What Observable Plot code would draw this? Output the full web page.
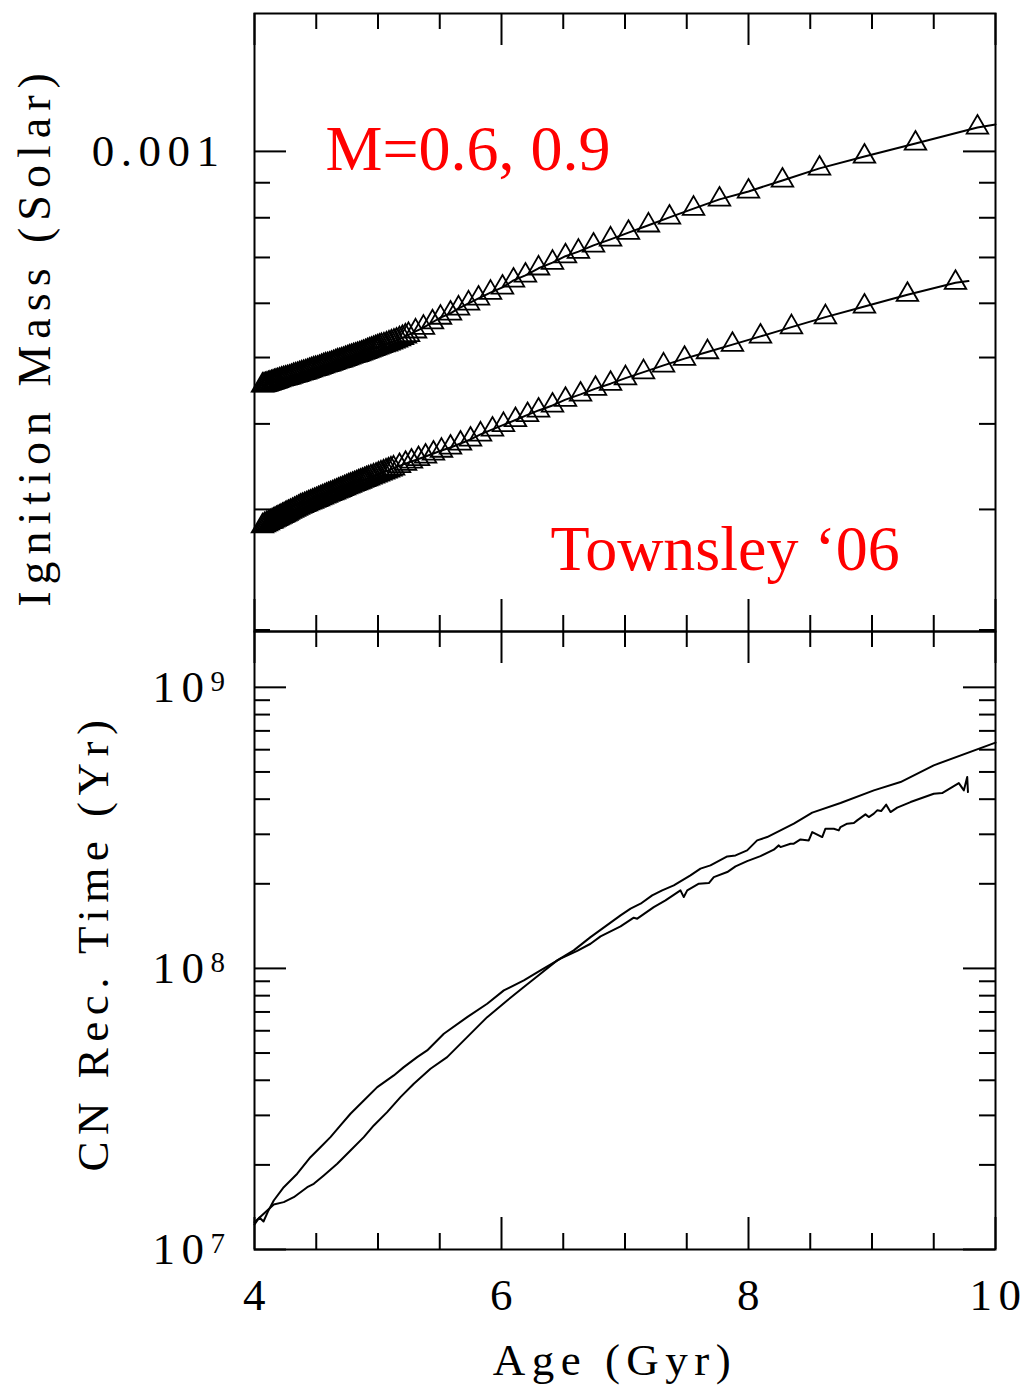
<!DOCTYPE html>
<html><head><meta charset="utf-8">
<script src="https://cdn.jsdelivr.net/npm/d3@7"></script>
<script src="https://cdn.jsdelivr.net/npm/@observablehq/plot@0.6"></script>
<style>
html,body{margin:0;padding:0;background:#fff;}
#wrap{position:relative;width:1028px;height:1387px;overflow:hidden;background:#fff;}
#top,#bot{position:absolute;left:0;}
#top{top:0;z-index:1}
#bot{top:630px;z-index:2}
svg text{letter-spacing:6.5px;}
svg g[fill="#ff0000"] text{letter-spacing:0px;}
svg g[fill="#010101"] text{letter-spacing:7px;}
svg g[fill="#020202"] text{letter-spacing:0px;}
</style></head><body><div id="wrap"><div id="top"></div><div id="bot"></div></div>
<script>
// ---------- tick values ----------
const ageMajor = [4, 6, 8, 10];
const ageMinor = [4.5, 5, 5.5, 6.5, 7, 7.5, 8.5, 9, 9.5];
const massMajor = [0.001];
const massMinor = [0.0002, 0.0003, 0.0004, 0.0005, 0.0006, 0.0007, 0.0008, 0.0009];
const massLabels = ["0.001"];
const cnMajor = [1e7, 1e8, 1e9];
const cnMinor = [2e7, 3e7, 4e7, 5e7, 6e7, 7e7, 8e7, 9e7, 2e8, 3e8, 4e8, 5e8, 6e8, 7e8, 8e8, 9e8];
const cnBase = ["10", "10", "10"];
const cnExp = ["7", "8", "9"];

// ---------- top panel: ignition mass (units of 1e-4 Msun) ----------
const hiAge = [4.065,4.089,4.113,4.138,4.162,4.186,4.219,4.251,4.283,4.316,4.348,4.381,4.413,4.445,4.478,4.510,4.543,4.575,4.607,4.640,4.672,4.704,4.737,4.769,4.802,4.834,4.866,4.899,4.931,4.964,4.996,5.028,5.069,5.109,5.150,5.198,5.247,5.304,
  5.368,5.441,5.506,5.587,5.652,5.733,5.814,5.911,6.008,6.097,6.194,6.300,6.413,6.518,6.623,6.745,6.883,7.028,7.190,7.360,7.555,7.765,8.000,8.275,8.575,8.939,9.352,9.854];
const hiMass = [4.552,4.560,4.575,4.591,4.606,4.622,4.645,4.661,4.677,4.701,4.717,4.741,4.757,4.781,4.805,4.821,4.846,4.870,4.886,4.911,4.936,4.953,4.978,5.003,5.028,5.045,5.070,5.096,5.122,5.148,5.174,5.200,5.227,5.262,5.297,5.343,5.397,5.461,
  5.53,5.63,5.72,5.80,5.90,6.00,6.10,6.22,6.33,6.48,6.59,6.75,6.88,7.03,7.14,7.29,7.44,7.61,7.80,8.01,8.25,8.51,8.74,9.07,9.445,9.83,10.27,10.84];
// further markers packed into the dense band at the young end
const hiAgeDense = [4.077,4.101,4.125,4.150,4.174,4.202,4.235,4.267,4.299,4.332,4.364,4.397,4.429,4.461,4.494,4.526,4.559,4.591,4.623,4.656,4.688,4.720,4.753,4.785,4.818,4.850,4.882,4.915,4.947,4.980,5.012,5.048,5.089,5.129,5.174,5.222];
const hiMassDense = [4.556,4.567,4.583,4.598,4.614,4.633,4.653,4.669,4.689,4.709,4.729,4.749,4.769,4.793,4.813,4.833,4.858,4.878,4.898,4.923,4.944,4.965,4.990,5.015,5.036,5.057,5.083,5.109,5.135,5.161,5.187,5.213,5.244,5.279,5.320,5.370];
const hiEndAge = [10.0];
const hiEndMass = [10.95];

const loAge = [4.065,4.081,4.097,4.113,4.130,4.154,4.178,4.202,4.227,4.251,4.275,4.308,4.340,4.372,4.405,4.437,4.470,4.502,4.534,4.567,4.599,4.632,4.664,4.696,4.729,4.761,4.794,4.826,4.858,4.891,4.923,4.964,5.004,5.045,5.085,5.126,5.174,5.223,5.271,5.328,5.385,5.449,5.514,
  5.587,5.668,5.749,5.830,5.927,6.016,6.113,6.211,6.300,6.413,6.518,6.640,6.761,6.883,7.004,7.150,7.312,7.482,7.668,7.870,8.097,8.348,8.623,8.939,9.287,9.676];
const loMass = [2.836,2.846,2.856,2.866,2.876,2.891,2.906,2.921,2.936,2.951,2.967,2.987,3.008,3.029,3.046,3.063,3.080,3.098,3.116,3.134,3.152,3.169,3.187,3.205,3.224,3.242,3.260,3.277,3.295,3.313,3.331,3.353,3.376,3.399,3.422,3.445,3.473,3.499,3.525,3.555,3.585,3.621,3.657,
  3.695,3.745,3.796,3.862,3.926,3.987,4.053,4.123,4.185,4.256,4.340,4.417,4.503,4.579,4.666,4.761,4.870,4.981,5.093,5.221,5.368,5.539,5.728,5.937,6.176,6.43];
const loAgeDense = [4.142,4.166,4.190,4.214,4.239,4.263,4.291,4.324,4.356,4.388,4.421,4.453,4.486,4.518,4.550,4.583,4.615,4.648,4.680,4.712,4.745,4.777,4.810,4.842,4.874,4.907,4.943,4.984,5.024,5.065,5.105];
const loMassDense = [2.883,2.898,2.913,2.928,2.943,2.959,2.977,2.997,3.018,3.037,3.054,3.071,3.089,3.107,3.125,3.143,3.160,3.178,3.196,3.214,3.233,3.251,3.268,3.286,3.304,3.322,3.342,3.364,3.387,3.410,3.433];
const loEndAge = [9.781];
const loEndMass = [6.465];

// ---------- bottom panel: CN recurrence time (Myr) ----------
const cnAAge = [4.000,4.156,4.237,4.318,4.427,4.480,4.561,4.670,4.777,4.885,4.966,5.074,5.182,5.290,5.425,5.560,5.722,5.884,6.046,6.181,6.316,6.451,6.585,6.721,6.964,7.045,7.126,7.220,7.301,7.395,7.530,7.611,7.692,7.828,7.895,7.989,8.070,8.151,8.367,8.435,8.516,8.745,9.015,9.231,9.500,10.000];
const cnAMyr = [12.51,14.46,14.74,15.35,16.66,17.13,18.34,20.18,22.50,25.10,27.63,30.81,34.83,38.88,43.97,48.34,56.95,67.08,76.93,85.82,95.75,106.8,115.9,129.2,154.4,163.2,169.9,181.9,189.5,197.4,214.3,226.4,232.6,250.3,252.4,263.0,285.4,293.3,327.3,341.0,358.2,387.6,430.0,460.3,527.9,635.7];
const cnBAge = [4.000,4.040,4.073,4.113,4.156,4.237,4.346,4.453,4.534,4.615,4.696,4.777,4.885,4.994,5.128,5.209,5.317,5.398,5.533,5.722,5.884,6.019,6.181,6.316,6.478,6.613,6.721,6.802,6.964,7.071,7.099,7.233,7.328,7.449,7.476,7.504,7.598,7.679,7.719,7.828,7.895,7.989,8.097,8.205,8.245,8.259,8.340,8.367,8.421,8.488,8.516,8.597,8.623,8.691,8.731,8.745,8.799,8.853,8.880,8.947,8.974,9.015,9.042,9.074,9.115,9.150,9.204,9.312,9.500,9.568,9.703,9.744,9.771,9.777];
const cnBMyr = [12.27,13.00,12.58,13.77,14.94,16.66,18.60,21.30,23.12,25.10,27.63,30.41,33.90,37.81,41.62,44.55,48.34,51.08,58.55,67.08,74.88,83.53,90.65,98.37,108.3,115.4,122.4,130.0,141.1,151.5,150.3,165.3,174.6,189.5,179.4,189.5,200.2,201.2,211.3,220.2,230.7,240.9,250.9,264.5,274.0,270.2,277.8,277.8,287.7,285.4,305.6,293.3,314.1,314.1,309.8,318.3,327.3,328.9,336.3,353.2,345.5,355.3,365.1,363.0,382.5,360.0,373.2,390.7,418.4,420.5,456.5,430.0,479.6,424.0];

// ---------- build tables ----------
const zip = (a, b, s) => a.map((v, i) => ({age: v, val: b[i] * s}));
const hiPts = zip(hiAge, hiMass, 1e-4);
const loPts = zip(loAge, loMass, 1e-4);
const hiDots = hiPts.concat(zip(hiAgeDense, hiMassDense, 1e-4));
const loDots = loPts.concat(zip(loAgeDense, loMassDense, 1e-4));
const hiLine = hiPts.concat(zip(hiEndAge, hiEndMass, 1e-4));
const loLine = loPts.concat(zip(loEndAge, loEndMass, 1e-4));
const cnA = zip(cnAAge, cnAMyr, 1e6);
const cnB = zip(cnBAge, cnBMyr, 1e6);
const cnLab = cnMajor.map((v, i) => ({v, base: cnBase[i], exp: cnExp[i]}));

const FW = 741, FH = 618, INK = "#000", INK2 = "#010101", INK3 = "#020202";
const FONT = "Liberation Serif";
const MAJ = 32, MIN = 16;

function yTicks(vals, len) {
  return [
    Plot.ruleY(vals, {insetRight: FW - len, stroke: INK, strokeWidth: 2}),
    Plot.ruleY(vals, {insetLeft: FW - len, stroke: INK, strokeWidth: 2})
  ];
}
function xTicks(vals, len) {
  return [
    Plot.ruleX(vals, {insetBottom: FH - len, stroke: INK, strokeWidth: 2}),
    Plot.ruleX(vals, {insetTop: FH - len, stroke: INK, strokeWidth: 2})
  ];
}

const topPlot = Plot.plot({
  width: 1028, height: 633,
  marginLeft: 254, marginRight: 33, marginTop: 13, marginBottom: 2,
  style: {background: "transparent", overflow: "visible", fontFamily: FONT},
  x: {domain: [4, 10], axis: null},
  y: {type: "log", domain: [1.99e-4, 1.59e-3], axis: null},
  marks: [
    ...yTicks(massMinor, MIN), ...yTicks(massMajor, MAJ),
    ...xTicks(ageMinor, MIN), ...xTicks(ageMajor, MAJ),
    Plot.line(hiLine, {x: "age", y: "val", stroke: INK, strokeWidth: 2}),
    Plot.line(loLine, {x: "age", y: "val", stroke: INK, strokeWidth: 2}),
    Plot.dot(hiDots, {x: "age", y: "val", symbol: "triangle", r: 8, stroke: INK, strokeWidth: 1.8, fill: "none"}),
    Plot.dot(loDots, {x: "age", y: "val", symbol: "triangle", r: 8, stroke: INK, strokeWidth: 1.8, fill: "none"}),
    Plot.text(massMajor, {y: d => d, text: (d, i) => massLabels[i], frameAnchor: "left", textAnchor: "end", lineAnchor: "middle", dx: -29, fontSize: 45, fill: INK}),
    Plot.text(["Ignition Mass (Solar)"], {frameAnchor: "left", textAnchor: "middle", lineAnchor: "middle", rotate: -90, dx: -219, dy: 14, fontSize: 46, fill: INK2}),
    Plot.text(["M=0.6, 0.9"], {frameAnchor: "top-left", textAnchor: "start", lineAnchor: "middle", dx: 71, dy: 136, fontSize: 64, fill: "#ff0000"}),
    Plot.text(["Townsley \u201806"], {frameAnchor: "top-left", textAnchor: "start", lineAnchor: "middle", dx: 296, dy: 536, fontSize: 64, fill: "#ff0000"}),
    Plot.frame({stroke: INK, strokeWidth: 2})
  ]
});

const botPlot = Plot.plot({
  width: 1028, height: 757,
  marginLeft: 254, marginRight: 33, marginTop: 1, marginBottom: 138,
  style: {background: "transparent", overflow: "visible", fontFamily: FONT},
  x: {domain: [4, 10], axis: null},
  y: {type: "log", domain: [1e7, 1.58e9], axis: null},
  marks: [
    ...yTicks(cnMinor, MIN), ...yTicks(cnMajor, MAJ),
    ...xTicks(ageMinor, MIN), ...xTicks(ageMajor, MAJ),
    Plot.line(cnA, {x: "age", y: "val", stroke: INK, strokeWidth: 2}),
    Plot.line(cnB, {x: "age", y: "val", stroke: INK, strokeWidth: 2}),
    Plot.text(cnLab, {y: "v", text: "base", frameAnchor: "left", textAnchor: "start", lineAnchor: "middle", dx: -102, fontSize: 45, fill: INK}),
    Plot.text(cnLab, {y: "v", text: "exp", frameAnchor: "left", textAnchor: "start", lineAnchor: "middle", dx: -44, dy: -6, fontSize: 29, fill: INK3}),
    Plot.text(ageMajor, {x: d => d, text: d => String(d), frameAnchor: "bottom", lineAnchor: "middle", dx: 3, dy: 46, fontSize: 45, fill: INK}),
    Plot.text(["Age (Gyr)"], {frameAnchor: "bottom", lineAnchor: "middle", dx: -10, dy: 111, fontSize: 45, fill: INK}),
    Plot.text(["CN Rec. Time (Yr)"], {frameAnchor: "left", textAnchor: "middle", lineAnchor: "middle", rotate: -90, dx: -161, dy: 2, fontSize: 45, fill: INK}),
    Plot.frame({stroke: INK, strokeWidth: 2})
  ]
});

document.getElementById("top").appendChild(topPlot);
document.getElementById("bot").appendChild(botPlot);
</script></body></html>
